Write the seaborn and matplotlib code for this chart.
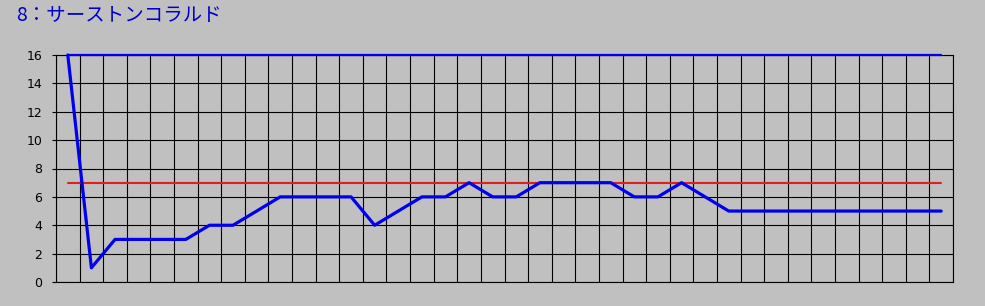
import numpy as np
import pandas as pd
import matplotlib
matplotlib.use("Agg")
import matplotlib.pyplot as plt
import seaborn as sns

# Data
races = list(range(38))
rank = [16, 1, 3, 3, 3, 3, 4, 4, 5, 6, 6, 6, 6, 4, 5, 6, 6, 7, 6, 6,
        7, 7, 7, 7, 6, 6, 7, 6, 5, 5, 5, 5, 5, 5, 5, 5, 5, 5]
field_size = [16] * 38
reference_line = [7] * 38
yticks = [0, 2, 4, 6, 8, 10, 12, 14, 16]
title = "8：サーストンコラルド"

sns.set_theme(style="white")
plt.rcParams['font.family'] = ['DejaVu Sans', 'Noto Sans CJK JP']

bg = "#C0C0C0"
fig = plt.figure(figsize=(9.85, 3.06), dpi=100, facecolor=bg)
ax = fig.add_axes([56/985, 1-282/306, (953-56)/985, (282-55)/306])
ax.set_facecolor(bg)

df = pd.DataFrame({"race": races, "rank": rank, "field": field_size, "ref": reference_line})

sns.lineplot(data=df, x="race", y="ref", ax=ax, color="#e02020", linewidth=1.5, zorder=3)
sns.lineplot(data=df, x="race", y="field", ax=ax, color="#0000ee", linewidth=1.6, zorder=4, clip_on=False)
sns.lineplot(data=df, x="race", y="rank", ax=ax, color="#0000ee", linewidth=2.3, zorder=5, clip_on=False)

ax.set_xlim(-0.5, len(races) - 0.5)
ax.set_ylim(0, 16)
ax.set_xticks(np.arange(-0.5, len(races), 1.0))
ax.set_xticklabels([])
ax.set_yticks(yticks)
ax.set_yticklabels([str(v) for v in yticks], fontsize=9, color="black")
ax.tick_params(axis='x', length=0)
ax.tick_params(axis='y', length=3, width=0.8, color="black", pad=7, left=True)
ax.grid(True, color="black", linewidth=0.8)
ax.set_axisbelow(True)
ax.set_xlabel("")
ax.set_ylabel("")
for s in ax.spines.values():
    s.set_color("black")
    s.set_linewidth(0.8)
    s.set_visible(True)

fig.text(16/985, 1-16/306, title, color="#0000cc", fontsize=14, va="center", ha="left",
         family=['Noto Sans CJK JP', 'DejaVu Sans'])

fig.savefig("out.png", dpi=100, facecolor=bg)
